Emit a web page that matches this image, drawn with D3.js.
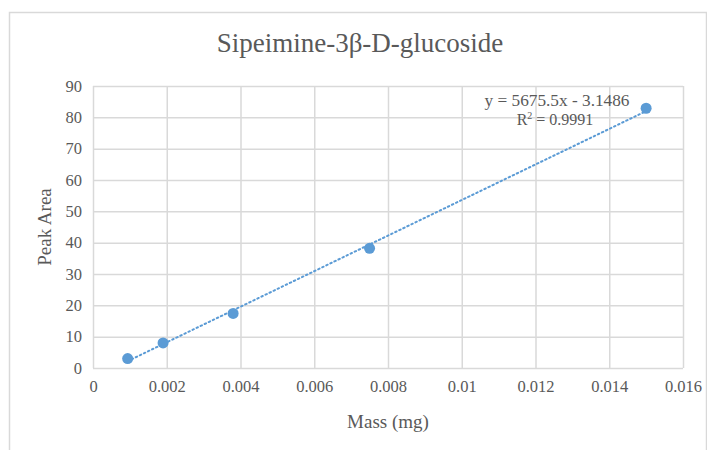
<!DOCTYPE html>
<html><head><meta charset="utf-8">
<script src="https://cdn.jsdelivr.net/npm/d3@7"></script>
<style>body{margin:0;background:#fff}svg{display:block}svg text{font-family:"Liberation Serif","DejaVu Serif",serif !important}</style>
</head><body><svg id="c" width="707" height="450"></svg>
<script>
const title = "Sipeimine-3β-D-glucoside";
const xLabel = "Mass (mg)";
const yLabel = "Peak Area";
const massValues = [0.00094, 0.0019, 0.0038, 0.0075, 0.015];
const peakValues = [3.0, 8.0, 17.4, 38.2, 82.9];
const xTicks = [0, 0.002, 0.004, 0.006, 0.008, 0.01, 0.012, 0.014, 0.016];
const yTicks = [0, 10, 20, 30, 40, 50, 60, 70, 80, 90];
const slope = 5675.5, intercept = -3.1486, r2 = 0.9991;

const svg = d3.select("#c");
const m = {l: 93, r: 683, t: 86, b: 368};
const x = d3.scaleLinear().domain([0, 0.016]).range([m.l, m.r]);
const y = d3.scaleLinear().domain([0, 90]).range([m.b, m.t]);
const grey = "#595959";

// outer frame
svg.append("rect").attr("x", 9.5).attr("y", 12.5).attr("width", 697).attr("height", 460)
  .attr("fill", "none").attr("stroke", "#d9d9d9").attr("stroke-width", 1.5);

const gx = svg.append("g").attr("transform", `translate(0,${m.b})`)
  .call(d3.axisBottom(x).tickValues(xTicks).tickSize(-(m.b - m.t)).tickPadding(0)
    .tickFormat(d => d === 0 ? "0" : String(+d.toFixed(3))));
gx.select(".domain").remove();
gx.selectAll("line").attr("stroke", "#d9d9d9").attr("stroke-width", 1.5);
gx.selectAll("text").attr("fill", grey).attr("font-size", 16.5).attr("dy", "1.45em");

const gy = svg.append("g").attr("transform", `translate(${m.l},0)`)
  .call(d3.axisLeft(y).tickValues(yTicks).tickSize(-(m.r - m.l)).tickPadding(11));
gy.select(".domain").remove();
gy.selectAll("line").attr("stroke", "#d9d9d9").attr("stroke-width", 1.5);
gy.selectAll("text").attr("fill", grey).attr("font-size", 16.5);

// trendline
const x0 = d3.min(massValues), x1 = d3.max(massValues);
svg.append("line")
  .attr("x1", x(x0)).attr("y1", y(slope * x0 + intercept))
  .attr("x2", x(x1)).attr("y2", y(slope * x1 + intercept))
  .attr("stroke", "#5b9bd5").attr("stroke-width", 2).attr("stroke-dasharray", "1.5,3")
  .attr("stroke-linecap", "round");

// points
svg.append("g").selectAll("circle").data(massValues.map((d, i) => [d, peakValues[i]]))
  .join("circle").attr("cx", d => x(d[0])).attr("cy", d => y(d[1])).attr("r", 5.5)
  .attr("fill", "#5b9bd5");

// equation
svg.append("text").attr("x", 557).attr("y", 105.5).attr("text-anchor", "middle")
  .attr("fill", grey).attr("font-size", 16)
  .attr("textLength", 145).attr("lengthAdjust", "spacingAndGlyphs")
  .text(`y = ${slope}x - ${Math.abs(intercept)}`);
const r = svg.append("text").attr("x", 555).attr("y", 124.5).attr("text-anchor", "middle")
  .attr("fill", grey).attr("font-size", 16);
r.append("tspan").text("R");
r.append("tspan").text("2").attr("font-size", 10).attr("dy", -6);
r.append("tspan").text(` = ${r2}`).attr("dy", 6);

// titles
svg.append("text").attr("x", 360).attr("y", 52).attr("text-anchor", "middle")
  .attr("fill", grey).attr("font-size", 27).text(title);
svg.append("text").attr("x", 388).attr("y", 428).attr("text-anchor", "middle")
  .attr("fill", grey).attr("font-size", 19).text(xLabel);
svg.append("text").attr("transform", "translate(51,227) rotate(-90)").attr("text-anchor", "middle")
  .attr("fill", grey).attr("font-size", 19).text(yLabel);
</script></body></html>
